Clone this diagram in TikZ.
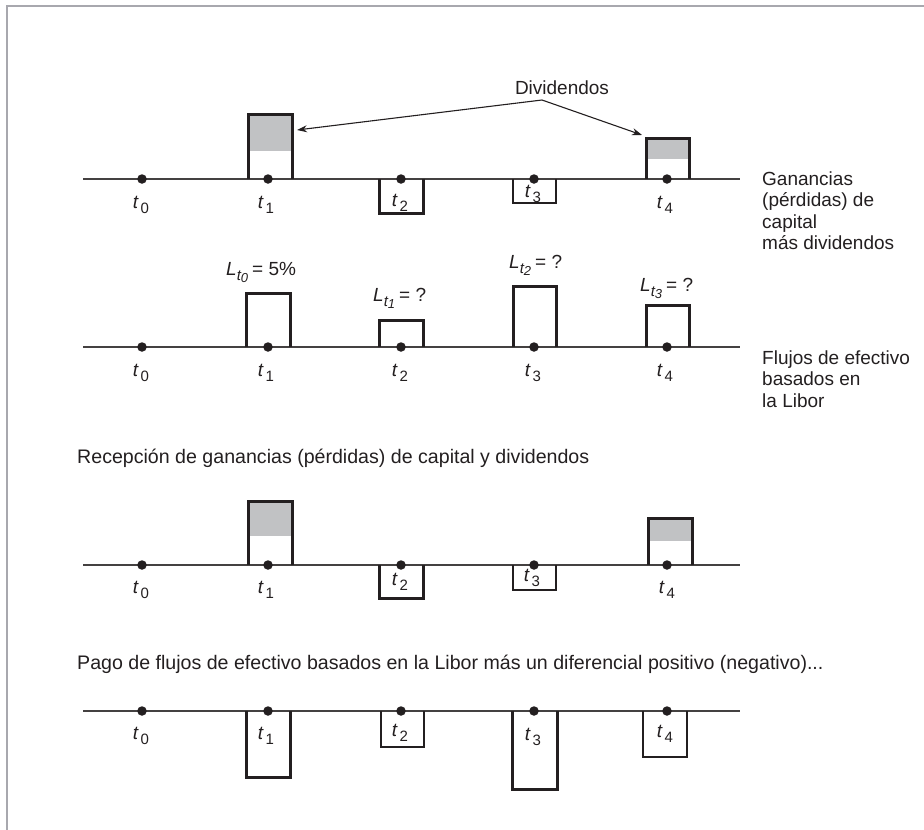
\documentclass[tikz,border=0pt]{standalone}
\usepackage{fontspec}
\setmainfont{Liberation Sans}
\usetikzlibrary{arrows.meta}
\definecolor{fillg}{RGB}{193,194,196}
\definecolor{frameg}{RGB}{168,168,174}
\definecolor{ink}{RGB}{35,31,32}
\newcommand{\tlab}[1]{{\fontsize{19}{19}\selectfont\itshape t}\hspace{2.5pt}\raisebox{-4.5pt}{\fontsize{15}{15}\selectfont #1}}
\newcommand{\Llab}[2]{{\itshape L}\raisebox{-5pt}{\fontsize{15}{15}\selectfont\itshape t\raisebox{-2.5pt}{\fontsize{13}{13}\selectfont #1}}\hspace{4pt}= #2}
\begin{document}
\begin{tikzpicture}[x=1pt,y=-1pt, line join=miter,
  axis/.style={line width=1.3pt, draw=ink!85},
  bar/.style={line width=3pt, draw=ink},
  barthin/.style={line width=1.8pt, draw=ink},
  dotn/.style={circle, fill=ink, inner sep=0pt, minimum size=9.5pt},
  tl/.style={inner sep=0pt, text=ink},
  txt/.style={inner sep=0pt, font=\fontsize{19}{21.5}\selectfont, text=ink},
  head/.style={inner sep=0pt, font=\fontsize{19.6}{22}\selectfont, text=ink},
  arr/.style={line width=1.1pt, draw=ink, -{Stealth[length=10pt,width=7pt]}}]
\useasboundingbox (0,0) rectangle (924,830);
\draw[frameg, line width=2pt] (924,6) -- (7,6) -- (7,830);

% ---- Dividendos label and arrows
\node[txt, anchor=base] (div) at (562,94) {Dividendos};
\coordinate (apex) at (542,100);
\coordinate (tipA) at (297,130);
\coordinate (tipB) at (642,135);
\draw[arr] (apex) -- (tipA);
\draw[arr] (apex) -- (tipB);

% ---- Timeline 1
\fill[fillg] (247,114) rectangle (292,151);
\fill[fillg] (646,138) rectangle (689,159);
\draw[axis] (83,179) -- (740,179);
\draw[bar] (248,179) |- (292,114) -- (292,179);
\draw[bar] (379,179) |- (423,213) -- (423,179);
\draw[barthin] (513,179) |- (556,203) -- (556,179);
\draw[bar] (646,179) |- (689,138) -- (689,179);
\foreach \i/\x in {0/142,1/268,2/401,3/534,4/667} \node[dotn] (a\i) at (\x,179) {};
\node[tl] (la0) at (141,205) {\tlab{0}};
\node[tl] (la1) at (266,205) {\tlab{1}};
\node[tl] (la2) at (400,203) {\tlab{2}};
\node[tl] (la3) at (533,194) {\tlab{3}};
\node[tl] (la4) at (665,205) {\tlab{4}};
\node[txt, anchor=base west] (g1) at (762,185) {Ganancias};
\node[txt, anchor=base west] (g2) at (762,206.5) {(pérdidas) de};
\node[txt, anchor=base west] (g3) at (762,228) {capital};
\node[txt, anchor=base west] (g4) at (762,249.5) {más dividendos};

% ---- Timeline 2
\draw[axis] (83,347) -- (740,347);
\draw[bar] (246,347) |- (290,293) -- (290,347);
\draw[bar] (379,347) |- (423,320) -- (423,347);
\draw[bar] (513,347) |- (556,286) -- (556,347);
\draw[bar] (646,347) |- (689,305) -- (689,347);
\foreach \i/\x in {0/142,1/268,2/401,3/534,4/667} \node[dotn] (b\i) at (\x,347) {};
\node[tl] (lb0) at (141,373) {\tlab{0}};
\node[tl] (lb1) at (266,373) {\tlab{1}};
\node[tl] (lb2) at (400,373) {\tlab{2}};
\node[tl] (lb3) at (533,373) {\tlab{3}};
\node[tl] (lb4) at (665,373) {\tlab{4}};
\node[txt, anchor=base west] (L0) at (226,275) {\Llab{0}{5\%}};
\node[txt, anchor=base west] (L1) at (373,301) {\Llab{1}{?}};
\node[txt, anchor=base west] (L2) at (509,268) {\Llab{2}{?}};
\node[txt, anchor=base west] (L3) at (640,291) {\Llab{3}{?}};
\node[txt, anchor=base west] (f1) at (762,364) {Flujos de efectivo};
\node[txt, anchor=base west] (f2) at (762,385.5) {basados en};
\node[txt, anchor=base west] (f3) at (762,407) {la Libor};

% ---- Heading 1
\node[head, anchor=base west] (h1) at (77,463) {Recepción de ganancias (pérdidas) de capital y dividendos};

% ---- Timeline 3
\fill[fillg] (247,501) rectangle (292,536);
\fill[fillg] (648,518) rectangle (692,541);
\draw[axis] (83,565) -- (740,565);
\draw[bar] (248,565) |- (292,501) -- (292,565);
\draw[bar] (379,565) |- (423,598) -- (423,565);
\draw[barthin] (513,565) |- (556,590) -- (556,565);
\draw[bar] (648,565) |- (692,518) -- (692,565);
\foreach \i/\x in {0/142,1/268,2/401,3/534,4/667} \node[dotn] (c\i) at (\x,565) {};
\node[tl] (lc0) at (141,590) {\tlab{0}};
\node[tl] (lc1) at (266,590) {\tlab{1}};
\node[tl] (lc2) at (400,582) {\tlab{2}};
\node[tl] (lc3) at (532,578) {\tlab{3}};
\node[tl] (lc4) at (667,590) {\tlab{4}};

% ---- Heading 2
\node[head, anchor=base west] (h2) at (77,669) {Pago de flujos de efectivo basados en la Libor más un diferencial positivo (negativo)...};

% ---- Timeline 4
\draw[axis] (83,711) -- (740,711);
\draw[bar] (246,711) |- (290,777) -- (290,711);
\draw[barthin] (381,711) |- (424,747) -- (424,711);
\draw[bar] (512,711) |- (557,789) -- (557,711);
\draw[barthin] (643,711) |- (687,757) -- (687,711);
\foreach \i/\x in {0/142,1/268,2/401,3/534,4/667} \node[dotn] (d\i) at (\x,711) {};
\node[tl] (ld0) at (141,736) {\tlab{0}};
\node[tl] (ld1) at (266,736) {\tlab{1}};
\node[tl] (ld2) at (400,733) {\tlab{2}};
\node[tl] (ld3) at (533,737) {\tlab{3}};
\node[tl] (ld4) at (665,734) {\tlab{4}};
\end{tikzpicture}
\end{document}
